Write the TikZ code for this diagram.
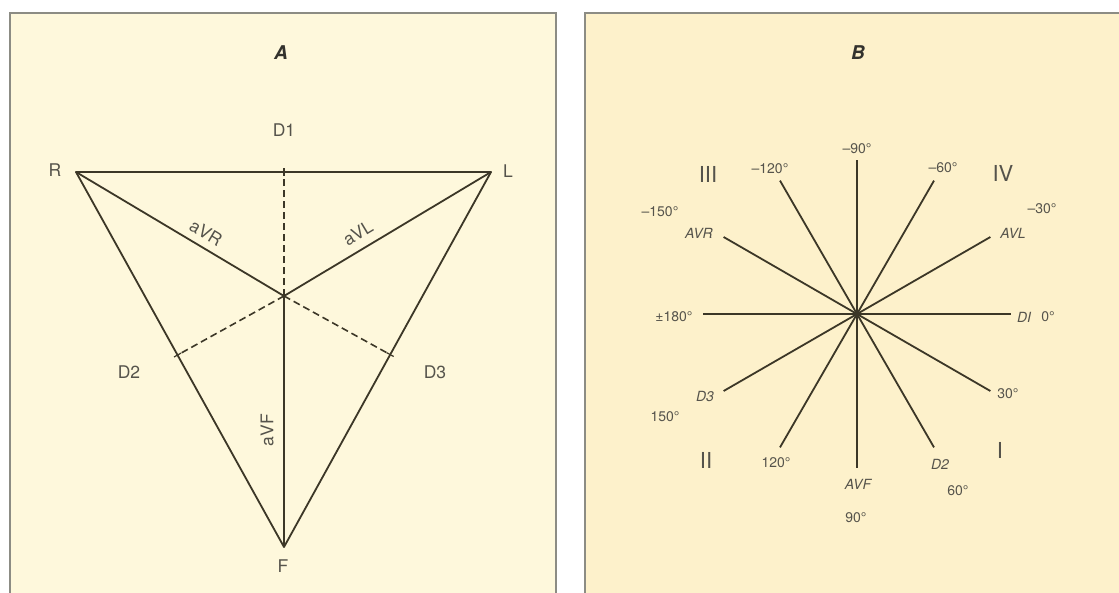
\documentclass[tikz,border=0pt]{standalone}
\usepackage{fontspec}
\setmainfont{TeX Gyre Heros}
\usetikzlibrary{calc}
\definecolor{bgA}{HTML}{FEF8DC}
\definecolor{bgB}{HTML}{FDF1CB}
\definecolor{framecol}{HTML}{8C8C84}
\definecolor{ink}{HTML}{3C3727}
\definecolor{txt}{HTML}{55534B}
\begin{document}
\begin{tikzpicture}[x=1pt,y=-1pt,
  lead/.style={draw=ink,line width=1.8pt,line join=round},
  dashlead/.style={draw=ink,line width=1.6pt,dash pattern=on 7pt off 4pt},
  tick/.style={draw=ink,line width=1.2pt},
  lblA/.style={text=txt,font=\fontsize{17.5}{17.5}\selectfont,inner sep=0.5pt},
  deg/.style={text=txt,font=\fontsize{14}{14}\selectfont,inner sep=1pt},
  leadname/.style={text=txt,font=\itshape\fontsize{14}{14}\selectfont,inner sep=1pt},
  roman/.style={text=txt,font=\fontsize{22}{22}\selectfont,inner sep=1pt},
  paneltitle/.style={text=txt!60!black,font=\bfseries\itshape\fontsize{19}{19}\selectfont,inner sep=1pt}]
\clip (0,0) rectangle (1119,592);
\fill[white] (0,0) rectangle (1119,592);
\filldraw[fill=bgA,draw=framecol,line width=1.5pt] (10,13) rectangle (556,615);
\filldraw[fill=bgB,draw=framecol,line width=1.5pt] (585,13) rectangle (1135,615);

% ---------- Panel A ----------
\coordinate (R) at (76,172);
\coordinate (L) at (491,172);
\coordinate (F) at (284,547);
\coordinate (C) at (284,296);
\coordinate (d1) at (284,172);
\coordinate (d2) at ($(R)!(C)!(F)$);
\coordinate (d3) at ($(L)!(C)!(F)$);
\draw[lead] (R) -- (L) -- (F) -- cycle;
\draw[lead] (R) -- (C) -- (L);
\draw[lead] (C) -- (F);
\draw[dashlead] (C) -- (d1);
\draw[dashlead] (C) -- (d2);
\draw[dashlead] (C) -- (d3);
\draw[tick] ($(d1)!-4pt!(C)$) -- ($(d1)!4pt!(C)$);
\draw[tick] ($(d2)!-4pt!(C)$) -- ($(d2)!4pt!(C)$);
\draw[tick] ($(d3)!-4pt!(C)$) -- ($(d3)!4pt!(C)$);

\node[paneltitle] (tA) at (281,53) {A};
\node[lblA] (nD1) at (284,130) {D1};
\node[lblA] (nR) at (55,170) {R};
\node[lblA] (nL) at (508,171) {L};
\node[lblA] (nF) at (283,566) {F};
\node[lblA] (nD2) at (129,372) {D2};
\node[lblA] (nD3) at (435,372) {D3};
\node[lblA,rotate=-31] (naVR) at (206,233) {aVR};
\node[lblA,rotate=31] (naVL) at (358,233) {aVL};
\node[lblA,rotate=90] (naVF) at (267,430) {aVF};

% ---------- Panel B ----------
\coordinate (O) at (857,314);
\foreach \a/\n in {-150/eAVR,-120/eM120,-90/eM90,-60/eM60,-30/eAVL,0/eDI,30/eP30,60/eD2,90/eAVF,120/eP120,150/eD3,180/eM180}{
  \coordinate (\n) at ($(O)+(\a:154)$);
  \draw[lead] (O) -- (\n);
}

\node[paneltitle] (tB) at (858,53) {B};
\node[deg] (l90m) at (857,149) {\textendash 90°};
\node[deg] (l120m) at (770,169) {\textendash 120°};
\node[deg] (l60m) at (943,168) {\textendash 60°};
\node[roman] (rIII) at (708,174) {III};
\node[roman] (rIV) at (1003,173) {IV};
\node[deg] (l150m) at (660,212) {\textendash 150°};
\node[leadname] (nAVR) at (699,233) {AVR};
\node[deg] (l30m) at (1042,209) {\textendash 30°};
\node[leadname] (nAVL) at (1013,233) {AVL};
\node[deg] (l180) at (674,317) {±180°};
\node[leadname] (nDI) at (1024,317) {DI};
\node[deg] (l0) at (1048,317) {0°};
\node[leadname] (nD3b) at (705,396) {D3};
\node[deg] (l150) at (665,417) {150°};
\node[deg] (l30) at (1008,394) {30°};
\node[roman] (rII) at (706,460) {II};
\node[deg] (l120) at (776,463) {120°};
\node[leadname] (nAVF) at (858,484) {AVF};
\node[leadname] (nD2b) at (940,464) {D2};
\node[roman] (rI) at (1000,450) {I};
\node[deg] (l60) at (958,491) {60°};
\node[deg] (l90) at (856,518) {90°};
\end{tikzpicture}
\end{document}
